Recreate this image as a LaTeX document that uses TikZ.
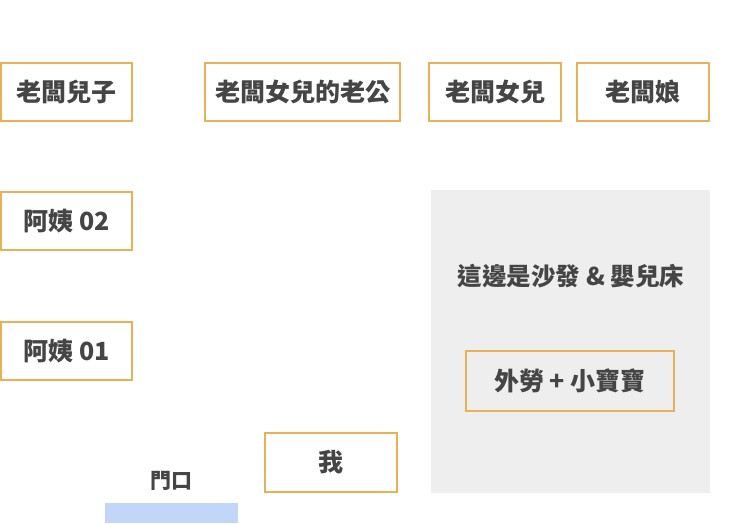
\documentclass[tikz,border=0pt]{standalone}
\usepackage{fontspec}
\setmainfont{Noto Sans CJK TC}
\definecolor{boxline}{HTML}{EAB055}
\definecolor{txt}{HTML}{454545}
\definecolor{sofa}{HTML}{EEEEEE}
\definecolor{door}{HTML}{C2D6FA}
\tikzset{
  person/.style={draw=boxline, line width=2pt, fill=white, inner sep=0pt, font=\fontsize{25}{28}\selectfont\bfseries, text=txt},
  lbl/.style={inner sep=0pt, text=txt}
}
\begin{document}
\begin{tikzpicture}[x=1pt,y=-1pt]
\useasboundingbox (0,0) rectangle (740,523);
\fill[sofa] (431,190) rectangle (710,493);
\fill[door] (105,503) rectangle (238,523);
\node[person, minimum width=131pt, minimum height=58pt] (son) at (66.5,92) {老闆兒子};
\node[person, minimum width=195pt, minimum height=58pt] (sil) at (302.5,92) {老闆女兒的老公};
\node[person, minimum width=132pt, minimum height=58pt] (dau) at (495,92) {老闆女兒};
\node[person, minimum width=132pt, minimum height=58pt] (wife) at (643,92) {老闆娘};
\node[person, minimum width=131pt, minimum height=58pt] (a2) at (66.5,221) {阿姨 02};
\node[person, minimum width=131pt, minimum height=58pt] (a1) at (66.5,351) {阿姨 01};
\node[person, minimum width=132pt, minimum height=59pt] (me) at (331,462.5) {我};
\node[person, fill=sofa, minimum width=208pt, minimum height=60pt] (maid) at (570,381) {外勞 + 小寶寶};
\node[lbl, font=\fontsize{24.5}{28}\selectfont\bfseries] (sofa) at (571,276) {這邊是沙發 \& 嬰兒床};
\node[lbl, font=\fontsize{21}{24}\selectfont\bfseries] (doorlbl) at (171,481) {門口};
\end{tikzpicture}
\end{document}
